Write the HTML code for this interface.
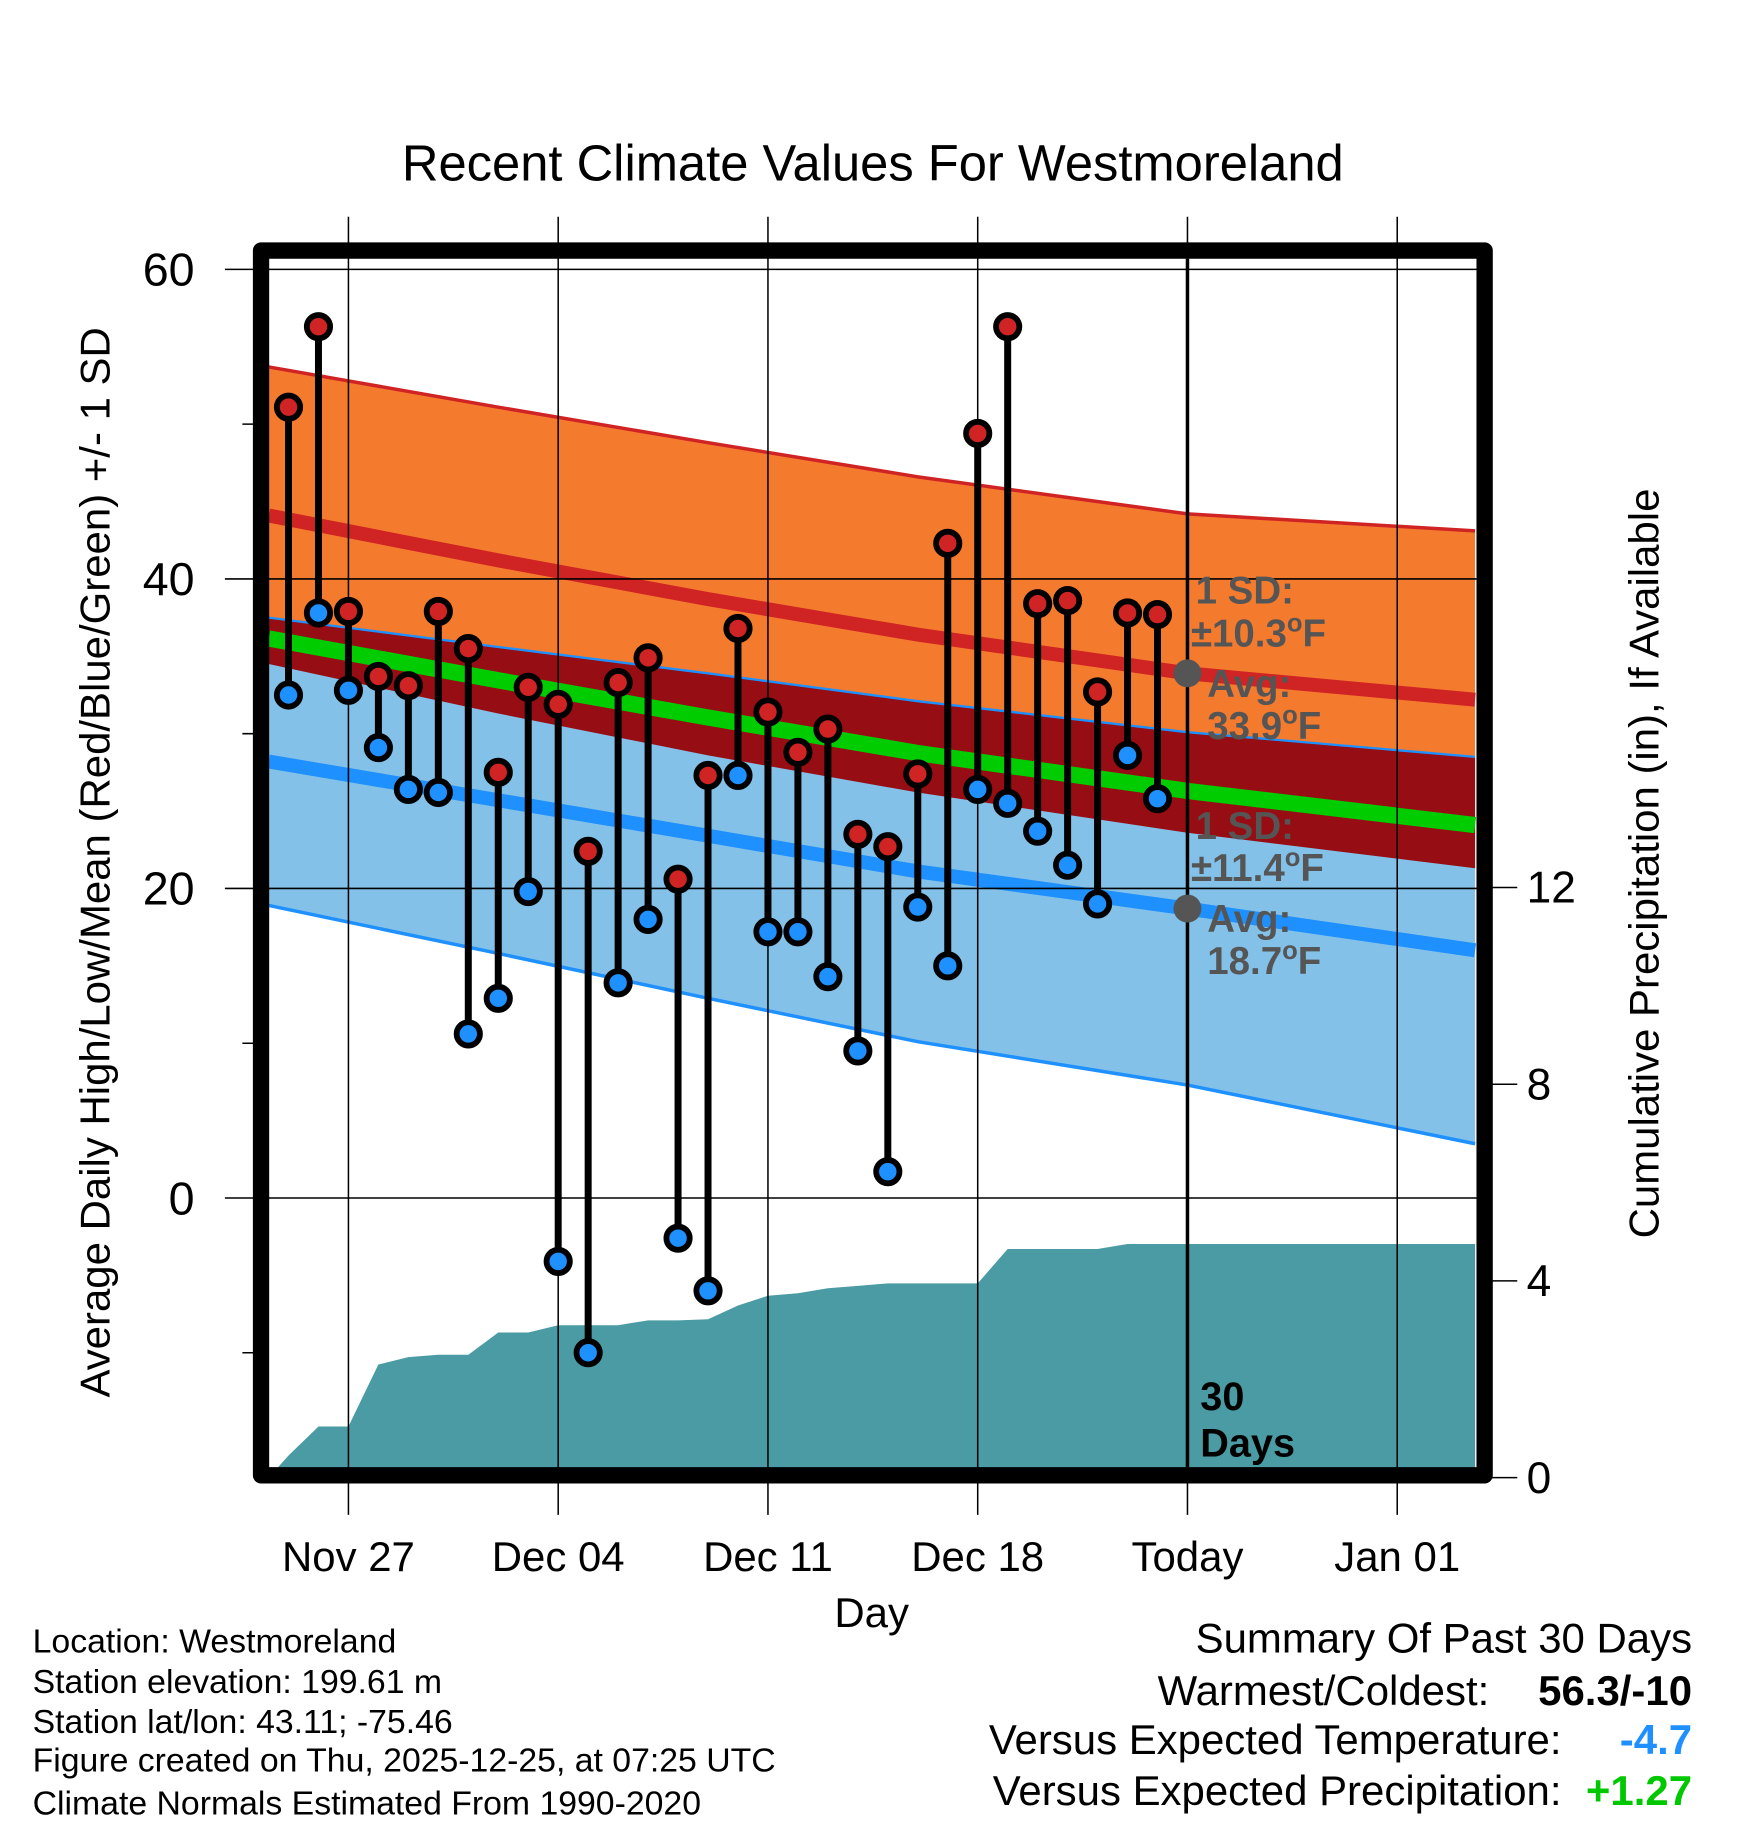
<!DOCTYPE html>
<html><head><meta charset="utf-8"><title>Recent Climate Values For Westmoreland</title>
<style>html,body{margin:0;padding:0;background:#fff}svg{display:block}text{font-family:"Liberation Sans",Arial,sans-serif}</style>
</head><body>
<svg id="chart" xmlns="http://www.w3.org/2000/svg" width="1748" height="1828" viewBox="0 0 1500 1568.66" preserveAspectRatio="none">
<rect width="1500" height="1568.66" fill="#fff"/>
<text x="749" y="155" font-size="43.5" text-anchor="middle">Recent Climate Values For Westmoreland</text>
<g id="bands"></g><g id="precip"></g><g id="lines"></g><g id="grid"></g><g id="today"></g><g id="marks"></g><g id="annot"></g><g id="axes"></g>
<text transform="translate(94,740) rotate(-90)" font-size="36" text-anchor="middle">Average Daily High/Low/Mean (Red/Blue/Green) +/- 1 SD</text>
<text transform="translate(1423,741) rotate(-90)" font-size="36" text-anchor="middle">Cumulative Precipitation (in), If Available</text>
<text x="748" y="1396" font-size="36" text-anchor="middle">Day</text>
<g font-size="29">
<text x="28" y="1418">Location: Westmoreland</text>
<text x="28" y="1453">Station elevation: 199.61 m</text>
<text x="28" y="1487">Station lat/lon: 43.11; -75.46</text>
<text x="28" y="1520">Figure created on Thu, 2025-12-25, at 07:25 UTC</text>
<text x="28" y="1557">Climate Normals Estimated From 1990-2020</text>
</g>
<g font-size="36">
<text x="1452" y="1418" text-anchor="end">Summary Of Past 30 Days</text>
<text x="1278" y="1463" text-anchor="end">Warmest/Coldest:</text>
<text x="1452" y="1463" text-anchor="end" font-weight="bold">56.3/-10</text>
<text x="1340" y="1505" text-anchor="end">Versus Expected Temperature:</text>
<text x="1452" y="1505" text-anchor="end" font-weight="bold" fill="#1e90ff">-4.7</text>
<text x="1340" y="1549" text-anchor="end">Versus Expected Precipitation:</text>
<text x="1452" y="1549" text-anchor="end" font-weight="bold" fill="#00c800">+1.27</text>
</g>
</svg>
<script>
// ---- data ----
const obsDays = [-2,-1,0,1,2,3,4,5,6,7,8,9,10,11,12,13,14,15,16,17,18,19,20,21,22,23,24,25,26,27]; // days since Nov 27
const highs = [51.1,56.3,37.9,33.7,33.1,37.9,35.5,27.5,33.0,31.9,22.4,33.3,34.9,20.6,27.3,36.8,31.4,28.8,30.3,23.5,22.7,27.4,42.3,49.4,56.3,38.4,38.6,32.7,37.8,37.7];
const lows = [32.5,37.8,32.8,29.1,26.4,26.2,10.6,12.9,19.8,-4.1,-10.0,13.9,18.0,-2.6,-6.0,27.3,17.2,17.2,14.3,9.5,1.7,18.8,15.0,26.4,25.5,23.7,21.5,19.0,28.6,25.8];
const precip = [0.45,1.04,1.04,2.3,2.45,2.5,2.5,2.95,2.95,3.1,3.1,3.1,3.2,3.2,3.22,3.5,3.7,3.75,3.85,3.9,3.95,3.95,3.95,3.95,4.65,4.65,4.65,4.65,4.75,4.75];
const normDays = [-2.66,5,12,19,28,37.6];
const normHigh = [44.1,41.2,38.7,36.4,33.9,32.2];
const sdHigh = [9.6,9.9,10.1,10.2,10.3,10.9];
const normLow = [28.2,25.7,23.4,21.1,18.7,16.0];
const sdLow = [9.3,9.9,10.5,11.0,11.4,12.5];
const xTickDays = [0,7,14,21,28,35];
const xTickLabels = ["Nov 27","Dec 04","Dec 11","Dec 18","Today","Jan 01"];
const yTicks = [60,40,20,0];
const yMinor = [50,30,10,-10];
const y2Ticks = [0,4,8,12];

// ---- axes ----
const L=231,R=1267,T=222,B=1259;
const dayMin=-2.66, dayMax=37.6;
const X=d=>299+d*25.714;
const Y=v=>1028-v*13.28;
const Y2=p=>1268-p*42.2;
const NS="http://www.w3.org/2000/svg";
function mk(parent,tag,attrs){const e=document.createElementNS(NS,tag);for(const k in attrs)e.setAttribute(k,attrs[k]);document.getElementById(parent).appendChild(e);return e;}
function pts(ds,vs){return ds.map((d,i)=>X(d).toFixed(1)+","+Y(vs[i]).toFixed(1));}

const hiUp=normHigh.map((v,i)=>v+sdHigh[i]), hiDn=normHigh.map((v,i)=>v-sdHigh[i]);
const loUp=normLow.map((v,i)=>v+sdLow[i]), loDn=normLow.map((v,i)=>v-sdLow[i]);
const mean=normHigh.map((v,i)=>(v+normLow[i])/2);

let e;
e=mk('bands','polygon',{points:pts(normDays,hiUp).concat(pts(normDays,hiDn).reverse()).join(' '),fill:'#f47a2e'});


e=mk('bands','polygon',{points:pts(normDays,loUp).concat(pts(normDays,loDn).reverse()).join(' '),fill:'#83c1e8'});


e=mk('bands','polygon',{points:pts(normDays,loUp).concat(pts(normDays,hiDn).reverse()).join(' '),fill:'#960d14'});



// precipitation area
let pp=[X(dayMin)+","+Y2(0)];
obsDays.forEach((d,i)=>pp.push(X(d).toFixed(1)+","+Y2(precip[i]).toFixed(1)));
pp.push(X(dayMax)+","+Y2(precip[precip.length-1]));
pp.push(X(dayMax)+","+Y2(0));
e=mk('precip','polygon',{points:pp.join(' '),fill:'#4a9ba4'});



function line(vs,color,w,name){const e=mk('lines','polyline',{points:pts(normDays,vs).join(' '),fill:'none',stroke:color,'stroke-width':w});

}
line(hiUp,'#d02323',3,'high-plus-sd-line');
line(normHigh,'#d02323',12,'normal-high-line');
line(loUp,'#1e90ff',2,'low-plus-sd-line');
line(loDn,'#1e90ff',3,'low-minus-sd-line');
line(normLow,'#1e90ff',12,'normal-low-line');
line(mean,'#00cc00',14,'normal-mean-line');

// grid & ticks
yTicks.forEach(v=>{
  e=mk('grid','line',{x1:193,x2:R,y1:Y(v),y2:Y(v),stroke:'#000','stroke-width':1.3});
  
  
  e=mk('axes','text',{x:167,y:Y(v)+14,'font-size':40,'text-anchor':'end'});
  e.textContent=v;
  
  
});
yMinor.forEach(v=>{
  e=mk('grid','line',{x1:208,x2:224,y1:Y(v),y2:Y(v),stroke:'#000','stroke-width':1.3});
  
  
});
xTickDays.forEach((d,i)=>{
  e=mk('grid','line',{x1:X(d),x2:X(d),y1:186,y2:1300,stroke:'#000','stroke-width':1.3});
  
  
  e=mk('axes','text',{x:X(d),y:1348,'font-size':36,'text-anchor':'middle'});
  e.textContent=xTickLabels[i];
  
  
});
y2Ticks.forEach(p=>{
  e=mk('axes','line',{x1:1274,x2:1302,y1:Y2(p),y2:Y2(p),stroke:'#000','stroke-width':1.3});
  
  
  e=mk('axes','text',{x:1310,y:Y2(p)+13,'font-size':38});
  e.textContent=p;
  
  
});
e=mk('axes','rect',{x:224,y:215,width:1050,height:1051,fill:'none',stroke:'#000','stroke-width':14,'stroke-linejoin':'round'});



// today line
e=mk('today','line',{x1:X(28),x2:X(28),y1:T,y2:B,stroke:'#000','stroke-width':3});


e=mk('today','text',{x:1030,y:1210,'font-size':34,'font-weight':'bold'});e.textContent='30';


e=mk('today','text',{x:1030,y:1250,'font-size':34,'font-weight':'bold'});e.textContent='Days';



// observations
obsDays.forEach((d,i)=>{
  const x=X(d);
  e=mk('marks','line',{x1:x,x2:x,y1:Y(highs[i]),y2:Y(lows[i]),stroke:'#000','stroke-width':6});
  
  
});
obsDays.forEach((d,i)=>{
  const x=X(d);
  e=mk('marks','circle',{cx:x,cy:Y(lows[i]),r:10,fill:'#1e90ff',stroke:'#000','stroke-width':5});
  
  
  e=mk('marks','circle',{cx:x,cy:Y(highs[i]),r:10,fill:'#d02323',stroke:'#000','stroke-width':5});
  
  
});

// annotations
const tx=X(28);
function ann(y,txt,x,name){const t=mk('annot','text',{x:x,y:y,'font-size':33,'font-weight':'bold',fill:'#555'});t.innerHTML=txt;

}
ann(518,'1 SD:',1026,'high-sd-label');
ann(555,'±10.3<tspan dy="-13" font-size="22">o</tspan><tspan dy="13">F</tspan>',1022,'high-sd-value');
e=mk('annot','circle',{cx:tx,cy:Y(normHigh[4]),r:12,fill:'#555'});


ann(598,'Avg:',1036,'high-avg-label');
ann(634,'33.9<tspan dy="-13" font-size="22">o</tspan><tspan dy="13">F</tspan>',1036,'high-avg-value');
ann(720,'1 SD:',1026,'low-sd-label');
ann(756,'±11.4<tspan dy="-13" font-size="22">o</tspan><tspan dy="13">F</tspan>',1022,'low-sd-value');
e=mk('annot','circle',{cx:tx,cy:Y(normLow[4]),r:12,fill:'#555'});


ann(800,'Avg:',1036,'low-avg-label');
ann(836,'18.7<tspan dy="-13" font-size="22">o</tspan><tspan dy="13">F</tspan>',1036,'low-avg-value');
</script>
</body></html>
